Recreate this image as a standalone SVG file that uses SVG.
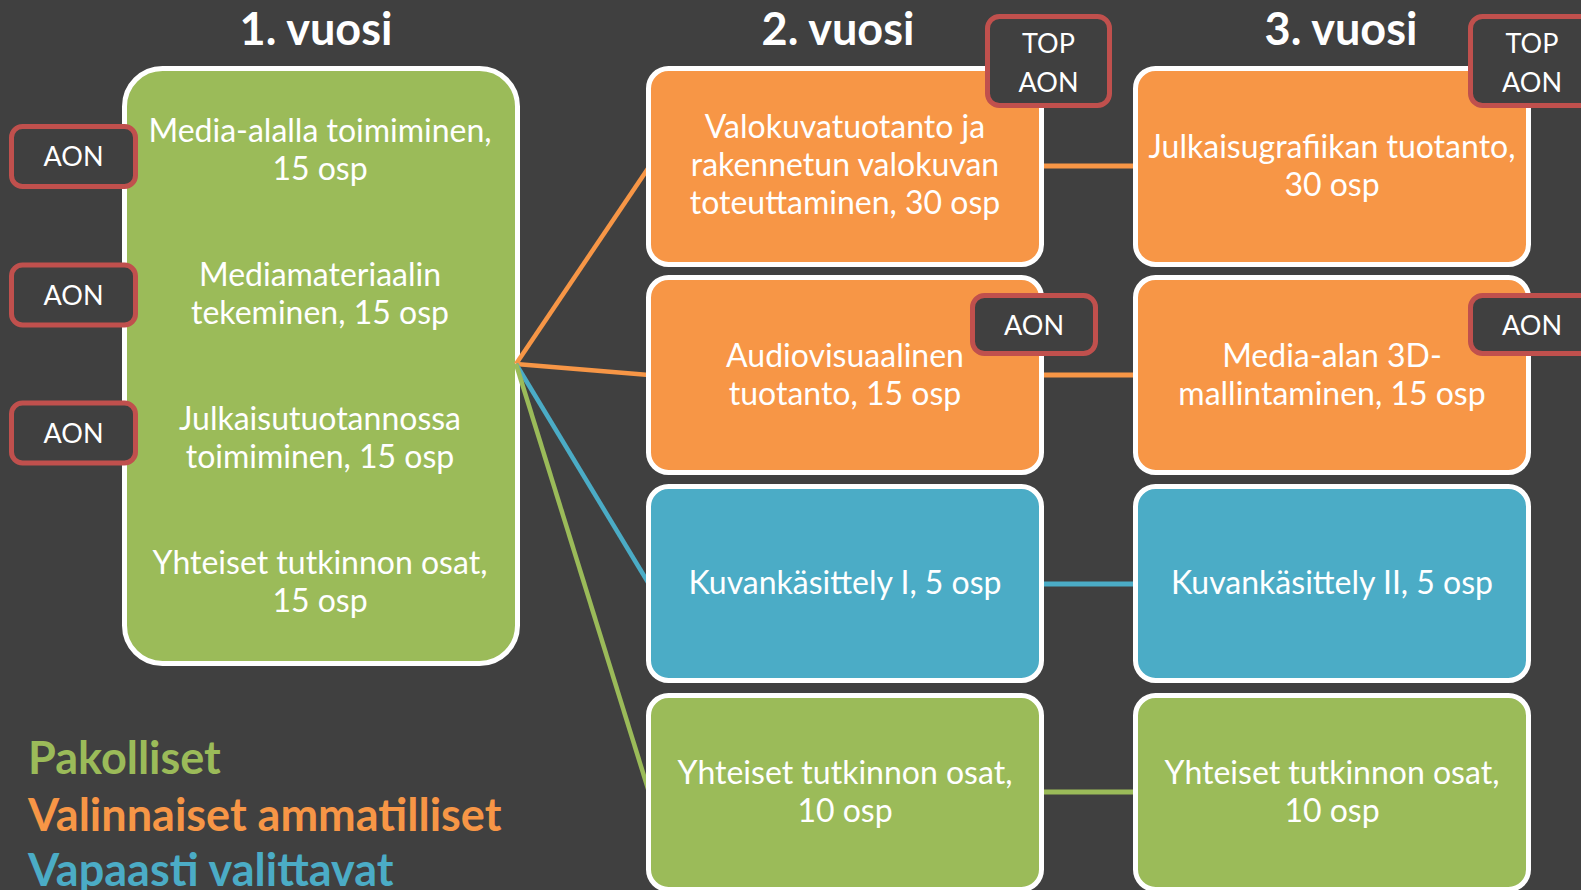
<svg xmlns="http://www.w3.org/2000/svg" width="1581" height="890" viewBox="0 0 1581 890">
<style>
.bg{fill:#404040}
.box{stroke:#ffffff;stroke-width:5}
.g{fill:#9bbb59}.o{fill:#f79646}.b{fill:#4bacc6}
.badge{fill:#404040;stroke:#c0504d;stroke-width:5}
.t{font-family:Lato,"Open Sans",sans-serif;fill:#ffffff;text-anchor:middle}
.body{font-size:32px}
.bt{font-size:27px}
.title{font-size:45px;font-weight:bold}
.leg{font-family:Lato,"Open Sans",sans-serif;font-size:45px;font-weight:bold}
.con{fill:none;stroke-width:4.5;stroke-linecap:butt}
.hcon{fill:none;stroke-width:5}
</style>
<rect class="bg" x="0" y="0" width="1581" height="890"/>

<g id="titles">
<text class="t title" x="316" y="45">1. vuosi</text>
<text class="t title" x="838" y="45">2. vuosi</text>
<text class="t title" x="1341" y="45">3. vuosi</text>
</g>

<g id="year1">
<rect class="box g" x="124.5" y="68.5" width="393" height="595" rx="38"/>
<text class="t body" x="320" y="142">Media-alalla toimiminen,</text>
<text class="t body" x="320" y="180">15 osp</text>
<text class="t body" x="320" y="286">Mediamateriaalin</text>
<text class="t body" x="320" y="324">tekeminen, 15 osp</text>
<text class="t body" x="320" y="430">Julkaisutuotannossa</text>
<text class="t body" x="320" y="468">toimiminen, 15 osp</text>
<text class="t body" x="320" y="574">Yhteiset tutkinnon osat,</text>
<text class="t body" x="320" y="612">15 osp</text>
</g>

<g id="connectors">
<line class="con" x1="516" y1="364" x2="649" y2="167" stroke="#f79646"/>
<line class="con" x1="516" y1="364" x2="649" y2="375" stroke="#f79646"/>
<line class="con" x1="516" y1="364" x2="649" y2="584" stroke="#4bacc6"/>
<line class="con" x1="516" y1="364" x2="649" y2="792" stroke="#9bbb59"/>
<line class="hcon" x1="1040" y1="166" x2="1137" y2="166" stroke="#f79646"/>
<line class="hcon" x1="1040" y1="375" x2="1137" y2="375" stroke="#f79646"/>
<line class="hcon" x1="1040" y1="584" x2="1137" y2="584" stroke="#4bacc6"/>
<line class="hcon" x1="1040" y1="792" x2="1137" y2="792" stroke="#9bbb59"/>
</g>

<g id="aon-1a">
<rect class="badge" x="11.5" y="126.5" width="124" height="60" rx="11"/>
<text class="t bt" x="73.5" y="166">AON</text>
</g>
<g id="aon-1b">
<rect class="badge" x="11.5" y="265" width="124" height="60" rx="11"/>
<text class="t bt" x="73.5" y="305">AON</text>
</g>
<g id="aon-1c">
<rect class="badge" x="11.5" y="403" width="124" height="60" rx="11"/>
<text class="t bt" x="73.5" y="443">AON</text>
</g>

<g id="y2-valokuva">
<rect class="box o" x="648.5" y="68.5" width="393" height="196" rx="20"/>
<text class="t body" x="845" y="138">Valokuvatuotanto ja</text>
<text class="t body" x="845" y="176">rakennetun valokuvan</text>
<text class="t body" x="845" y="214">toteuttaminen, 30 osp</text>
</g>
<g id="y2-av">
<rect class="box o" x="648.5" y="277.5" width="393" height="195" rx="20"/>
<text class="t body" x="845" y="367">Audiovisuaalinen</text>
<text class="t body" x="845" y="405">tuotanto, 15 osp</text>
</g>
<g id="y2-kuva">
<rect class="box b" x="648.5" y="486.5" width="393" height="194" rx="20"/>
<text class="t body" x="845" y="594">Kuvankäsittely I, 5 osp</text>
</g>
<g id="y2-yht">
<rect class="box g" x="648.5" y="695.5" width="393" height="194" rx="20"/>
<text class="t body" x="845" y="784">Yhteiset tutkinnon osat,</text>
<text class="t body" x="845" y="822">10 osp</text>
</g>

<g id="y3-julkaisu">
<rect class="box o" x="1135.5" y="68.5" width="393" height="196" rx="20"/>
<text class="t body" x="1332" y="158">Julkaisugrafiikan tuotanto,</text>
<text class="t body" x="1332" y="196">30 osp</text>
</g>
<g id="y3-3d">
<rect class="box o" x="1135.5" y="277.5" width="393" height="195" rx="20"/>
<text class="t body" x="1332" y="367">Media-alan 3D-</text>
<text class="t body" x="1332" y="405">mallintaminen, 15 osp</text>
</g>
<g id="y3-kuva">
<rect class="box b" x="1135.5" y="486.5" width="393" height="194" rx="20"/>
<text class="t body" x="1332" y="594">Kuvankäsittely II, 5 osp</text>
</g>
<g id="y3-yht">
<rect class="box g" x="1135.5" y="695.5" width="393" height="194" rx="20"/>
<text class="t body" x="1332" y="784">Yhteiset tutkinnon osat,</text>
<text class="t body" x="1332" y="822">10 osp</text>
</g>

<g id="topaon-2">
<rect class="badge" x="987.5" y="16.5" width="122" height="89" rx="12"/>
<text class="t bt" x="1048.5" y="53">TOP</text>
<text class="t bt" x="1048.5" y="92">AON</text>
</g>
<g id="aon-2">
<rect class="badge" x="972.5" y="295.5" width="123" height="58" rx="12"/>
<text class="t bt" x="1034" y="335">AON</text>
</g>
<g id="topaon-3">
<rect class="badge" x="1470.5" y="16.5" width="122" height="89" rx="12"/>
<text class="t bt" x="1532" y="53">TOP</text>
<text class="t bt" x="1532" y="92">AON</text>
</g>
<g id="aon-3">
<rect class="badge" x="1470.5" y="295.5" width="123" height="58" rx="12"/>
<text class="t bt" x="1532" y="335">AON</text>
</g>

<g id="legend">
<text class="leg" x="28" y="774" fill="#9bbb59">Pakolliset</text>
<text class="leg" x="28" y="831" fill="#f79646">Valinnaiset ammatilliset</text>
<text class="leg" x="28" y="886" fill="#4bacc6">Vapaasti valittavat</text>
</g>
</svg>
